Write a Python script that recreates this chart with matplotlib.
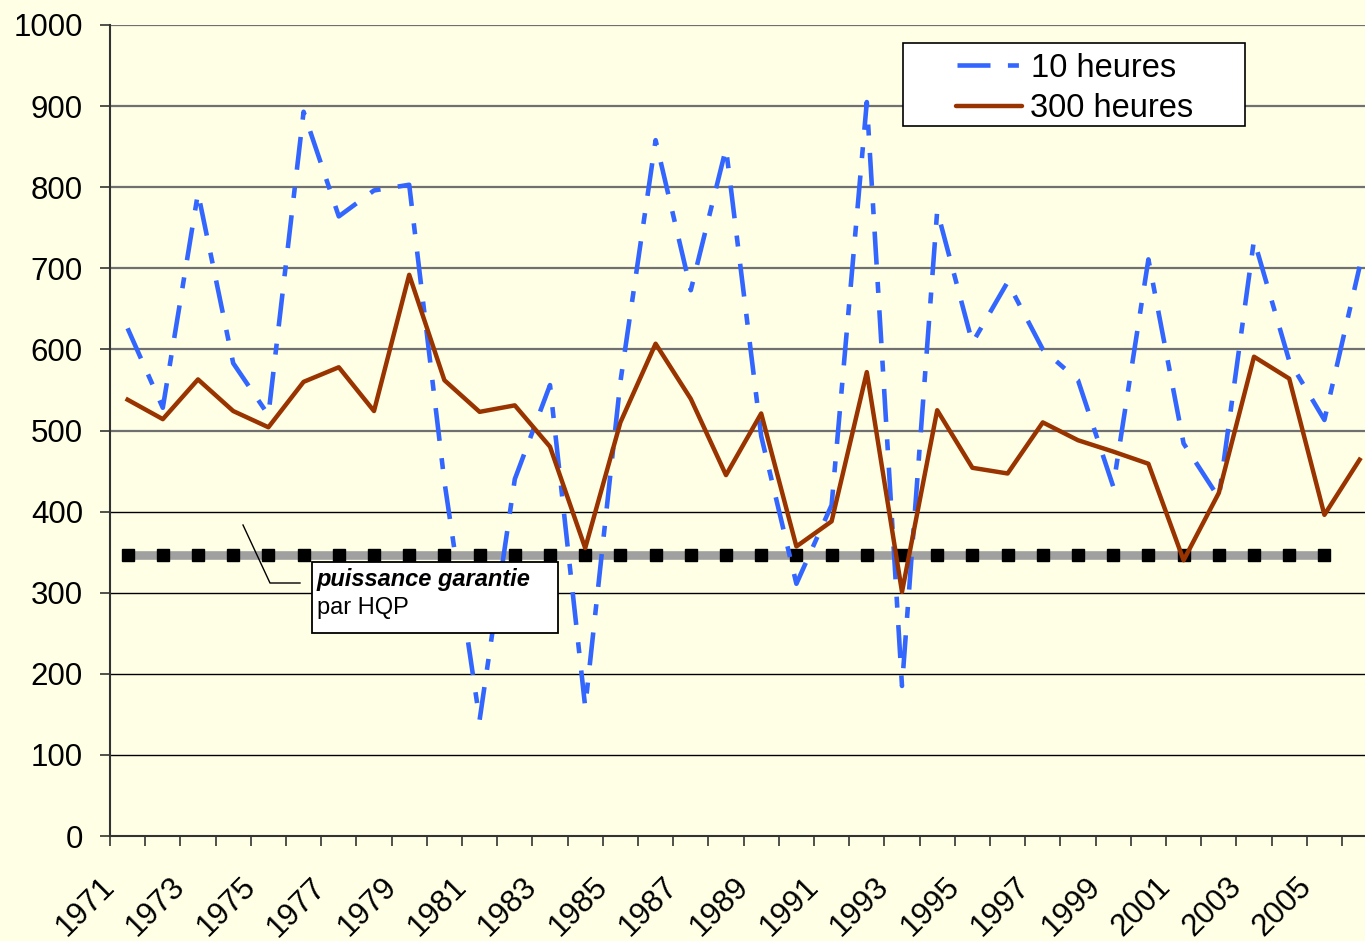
import numpy as np
import matplotlib
matplotlib.use('Agg')
import matplotlib.pyplot as plt
from matplotlib.lines import Line2D
from matplotlib.patches import Rectangle
from matplotlib.transforms import ScaledTranslation

plt.rcParams['font.family'] = ['Liberation Sans', 'DejaVu Sans']

# ---------- DONNEES ----------
years = list(range(1971, 2007))
h10 = [626, 528, 793, 583, 519, 893, 764, 796, 803, 437, 143, 440,
       556, 159, 560, 858, 673, 848, 493, 311, 408, 905, 185, 771,
       608, 683, 600, 562, 431, 711, 484, 417, 735, 586, 513, 702]
h300 = [538, 514, 563, 524, 504, 560, 578, 524, 692, 562, 523, 531,
        480, 355, 510, 607, 539, 445, 521, 357, 388, 572, 301, 525,
        454, 447, 510, 488, 474, 459, 340, 423, 591, 564, 396, 464]
hqp_years = years[:-1]
hqp_value = 347
yticks = list(range(0, 1001, 100))

W, H = 1365, 941
BG = '#FFFFE6'
BLUE = '#3366FF'
BROWN = '#993300'


def fx(px):
    return px / W


def fy(py):
    return 1 - py / H


fig = plt.figure(figsize=(W / 100, H / 100), dpi=100)
fig.patch.set_facecolor(BG)
ax = fig.add_axes([fx(110), fy(836), 1 - fx(110), fy(25) - fy(836)])
ax.set_facecolor(BG)

x = np.arange(len(years))
xh = np.arange(len(hqp_years))
blue_lw = 3.3
blue_ls = (0, (7.2, 3.8, 2.4, 3.8))

# ligne puissance garantie
ax.plot(xh, [hqp_value] * len(xh), color='#a0a0a0', lw=6.2,
        solid_capstyle='butt', zorder=2)
ax.plot(xh, [hqp_value] * len(xh), ls='none', marker='s', ms=8.5,
        color='black', zorder=2.1)

ax.plot(x, h10, color=BLUE, lw=blue_lw, ls=blue_ls, zorder=3)
ax.plot(x, h300, color=BROWN, lw=3.2, zorder=4)

# axes
ax.set_xlim(-0.5, -0.5 + (W - 110) / 35.2)
ax.set_ylim(0, 1000)
ax.set_yticks(yticks)
ax.set_yticklabels([str(v) for v in yticks], fontsize=22.5)
ax.set_xticks(np.arange(len(years)) - 0.5)
ax.set_xticklabels([])
ax.tick_params(axis='x', length=7.5, width=1.2, direction='out',
               color='#333333')
ax.tick_params(axis='y', length=7.5, width=1.2, direction='out',
               color='#333333', pad=12)

# etiquettes des annees (une sur deux), inclinees a 45 degres
off = ScaledTranslation(-28 / 100, -36 / 100, fig.dpi_scale_trans)
for xi, yr in zip(x[::2], years[::2]):
    ax.text(xi, 0, str(yr), transform=ax.get_xaxis_transform() + off,
            rotation=45, ha='right', va='top', rotation_mode='anchor',
            fontsize=22.5, clip_on=False)

for s in ['top', 'right']:
    ax.spines[s].set_visible(False)
for s in ['left', 'bottom']:
    ax.spines[s].set_color('#333333')
    ax.spines[s].set_linewidth(1.5)

# grille
for v in yticks[1:]:
    if v >= 500:
        ax.axhline(v, color='#707070', lw=1.6, zorder=1)
    else:
        ax.axhline(v, color='black', lw=1.0, zorder=1)

# ---------- LEGENDE ----------
fig.add_artist(Rectangle((fx(903), fy(126)), fx(1245) - fx(903),
                         fy(43) - fy(126), transform=fig.transFigure,
                         facecolor='white', edgecolor='black', lw=1.2,
                         zorder=5))
fig.add_artist(Line2D([fx(957), fx(1020)], [fy(65), fy(65)],
                      transform=fig.transFigure, color=BLUE, lw=blue_lw,
                      ls=blue_ls, zorder=6))
fig.add_artist(Line2D([fx(956), fx(1022)], [fy(106), fy(106)],
                      transform=fig.transFigure, color=BROWN, lw=3.2,
                      solid_capstyle='round', zorder=6))
fig.text(fx(1031), fy(77), '10 heures', fontsize=23.5, va='baseline',
         zorder=6)
fig.text(fx(1030), fy(117), '300 heures', fontsize=23.5, va='baseline',
         zorder=6)

# ---------- ANNOTATION ----------
fig.add_artist(Rectangle((fx(312), fy(633)), fx(558) - fx(312),
                         fy(562) - fy(633), transform=fig.transFigure,
                         facecolor='white', edgecolor='black', lw=1.3,
                         zorder=5))
fig.add_artist(Line2D([fx(243), fx(270), fx(300)],
                      [fy(525), fy(583), fy(583)],
                      transform=fig.transFigure, color='black', lw=1.0,
                      zorder=5))
fig.text(fx(317), fy(586), 'puissance garantie', fontsize=17,
         fontweight='bold', fontstyle='italic', va='baseline', zorder=6)
fig.text(fx(317), fy(614), 'par HQP', fontsize=17, va='baseline', zorder=6)

fig.savefig('out.png', dpi=100, facecolor=BG)
